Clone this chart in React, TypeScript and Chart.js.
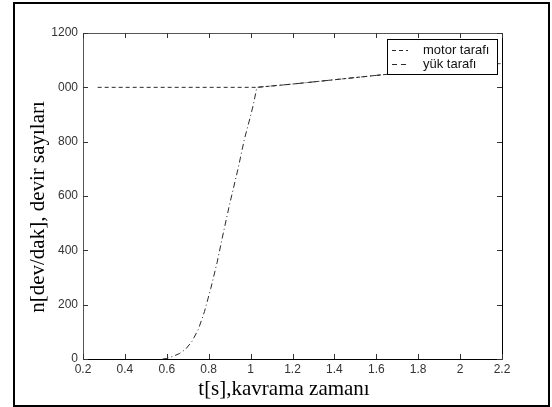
import React, { useEffect, useRef } from "react";
import { Chart, registerables } from "chart.js";

Chart.register(...registerables);

// Motor side (motor tarafı)
const motorT = [0.27, 1.03, 1.2, 1.4, 1.6, 1.8, 2.0, 2.2];
const motorN = [1000, 1000, 1012, 1028, 1044, 1059, 1074, 1088];

// Load side (yük tarafı)
const yukT = [0.58, 0.6, 0.63, 0.66, 0.69, 0.72, 0.75, 0.78, 0.81, 0.84, 0.87, 0.9, 0.94, 0.97, 1.0, 1.013, 1.03, 1.2, 1.4, 1.6, 1.8, 2.0, 2.2];
const yukN = [0, 2, 10, 20, 36, 65, 108, 175, 260, 355, 465, 570, 700, 808, 895, 936, 1000, 1012, 1028, 1044, 1059, 1074, 1088];

const xTicks = [0.2, 0.4, 0.6, 0.8, 1.0, 1.2, 1.4, 1.6, 1.8, 2.0, 2.2];
const yTicks = [0, 200, 400, 600, 800, 1000, 1200];
const yTickLabels = ["0", "200", "400", "600", "800", "000", "1200"];

const seriesNames = ["motor tarafı", "yük tarafı"];
const xTitle = "t[s],kavrama zamanı";
const yTitle = "n[dev/dak], devir sayıları";

const motorDash = [4, 3];
const yukDash = [6, 3, 1, 3];
const lineColor = "#2a2a2a";
const tickFont = "'Liberation Sans', Arial, sans-serif";

const toPts = (xs: number[], ys: number[]) => xs.map((x, i) => ({ x, y: ys[i] }));

const decorPlugin = {
  id: "decor",
  afterDraw(chart: any) {
    const ctx = chart.ctx as CanvasRenderingContext2D;
    const { left, right, top, bottom } = chart.chartArea;
    const xs = chart.scales.x;
    const ys = chart.scales.y;
    ctx.save();
    // axes box
    ctx.lineWidth = 1;
    ctx.strokeStyle = "#555";
    ctx.beginPath();
    ctx.moveTo(left + 0.5, bottom);
    ctx.lineTo(left + 0.5, top + 0.5);
    ctx.lineTo(right, top + 0.5);
    ctx.stroke();
    ctx.strokeStyle = "#000";
    ctx.beginPath();
    ctx.moveTo(right + 0.5, top);
    ctx.lineTo(right + 0.5, bottom + 0.5);
    ctx.lineTo(left, bottom + 0.5);
    ctx.stroke();
    // inward ticks
    const tl = 5;
    ctx.strokeStyle = "#333";
    ctx.beginPath();
    xTicks.forEach((v) => {
      const px = Math.round(xs.getPixelForValue(v)) + 0.5;
      ctx.moveTo(px, bottom);
      ctx.lineTo(px, bottom - tl);
      ctx.moveTo(px, top);
      ctx.lineTo(px, top + tl);
    });
    yTicks.forEach((v) => {
      const py = Math.round(ys.getPixelForValue(v)) + 0.5;
      ctx.moveTo(left, py);
      ctx.lineTo(left + tl, py);
      ctx.moveTo(right, py);
      ctx.lineTo(right - tl, py);
    });
    ctx.stroke();

    // legend inside the plot
    const lx = 387, ly = 39, lw = 110, lh = 35;
    ctx.fillStyle = "#fff";
    ctx.fillRect(lx, ly, lw, lh);
    ctx.strokeStyle = "#000";
    ctx.lineWidth = 1;
    ctx.strokeRect(lx + 0.5, ly + 0.5, lw, lh);
    ctx.font = "13px " + tickFont;
    ctx.textBaseline = "middle";
    ctx.textAlign = "left";
    const rows = [
      { y: 50, dash: motorDash },
      { y: 64, dash: [5, 4] },
    ];
    rows.forEach((r, i) => {
      ctx.strokeStyle = lineColor;
      ctx.setLineDash(r.dash);
      ctx.beginPath();
      ctx.moveTo(392, r.y + 0.5);
      ctx.lineTo(408, r.y + 0.5);
      ctx.stroke();
      ctx.setLineDash([]);
      ctx.fillStyle = "#111";
      ctx.fillText(seriesNames[i], 423, r.y);
    });

    // axis titles
    ctx.fillStyle = "#000";
    ctx.font = "21px 'Liberation Serif', 'Times New Roman', serif";
    ctx.textAlign = "center";
    ctx.textBaseline = "middle";
    ctx.fillText(xTitle, 284, 389);
    ctx.save();
    ctx.translate(38, 207);
    ctx.rotate(-Math.PI / 2);
    ctx.fillText(yTitle, 0, 0);
    ctx.restore();

    // outer frame
    ctx.strokeStyle = "#000";
    ctx.lineWidth = 2;
    ctx.strokeRect(14, 3, 535, 403);
    ctx.restore();
  },
};

export default function App() {
  const ref = useRef<HTMLCanvasElement | null>(null);
  useEffect(() => {
    if (!ref.current) return;
    const chart = new Chart(ref.current, {
      type: "scatter",
      data: {
        datasets: [
          {
            label: seriesNames[0],
            data: toPts(motorT, motorN),
            showLine: true,
            borderColor: lineColor,
            borderWidth: 1,
            borderDash: motorDash,
            pointRadius: 0,
            tension: 0,
          },
          {
            label: seriesNames[1],
            data: toPts(yukT, yukN),
            showLine: true,
            borderColor: lineColor,
            borderWidth: 1,
            borderDash: yukDash,
            pointRadius: 0,
            tension: 0,
          },
        ],
      },
      options: {
        animation: false,
        responsive: false,
        devicePixelRatio: 1,
        layout: { padding: { left: 0, top: 33, right: 50, bottom: 0 } },
        plugins: { legend: { display: false }, tooltip: { enabled: false } },
        scales: {
          x: {
            type: "linear",
            min: 0.2,
            max: 2.2,
            afterFit: (s: any) => { s.height = 48; },
            afterBuildTicks: (s: any) => { s.ticks = xTicks.map((v) => ({ value: v })); },
            grid: { display: false, drawTicks: false },
            border: { display: false },
            ticks: {
              padding: 3,
              color: "#333",
              font: { family: tickFont, size: 12 },
              maxRotation: 0,
              autoSkip: false,
              callback: (v: any) => String(Number(Number(v).toFixed(1))),
            },
          },
          y: {
            type: "linear",
            min: 0,
            max: 1200,
            afterFit: (s: any) => { s.width = 83; },
            afterBuildTicks: (s: any) => { s.ticks = yTicks.map((v) => ({ value: v })); },
            grid: { display: false, drawTicks: false },
            border: { display: false },
            ticks: {
              padding: 5,
              color: "#333",
              font: { family: tickFont, size: 12 },
              autoSkip: false,
              callback: (v: any) => {
                const i = yTicks.indexOf(Number(v));
                return i >= 0 ? yTickLabels[i] : String(v);
              },
            },
          },
        },
      },
      plugins: [decorPlugin],
    });
    return () => chart.destroy();
  }, []);
  return (
    <div style={{ position: "fixed", left: 0, top: 0, width: 552, height: 407, background: "#fff" }}>
      <canvas ref={ref} width={552} height={407} style={{ width: 552, height: 407, display: "block" }} />
    </div>
  );
}
